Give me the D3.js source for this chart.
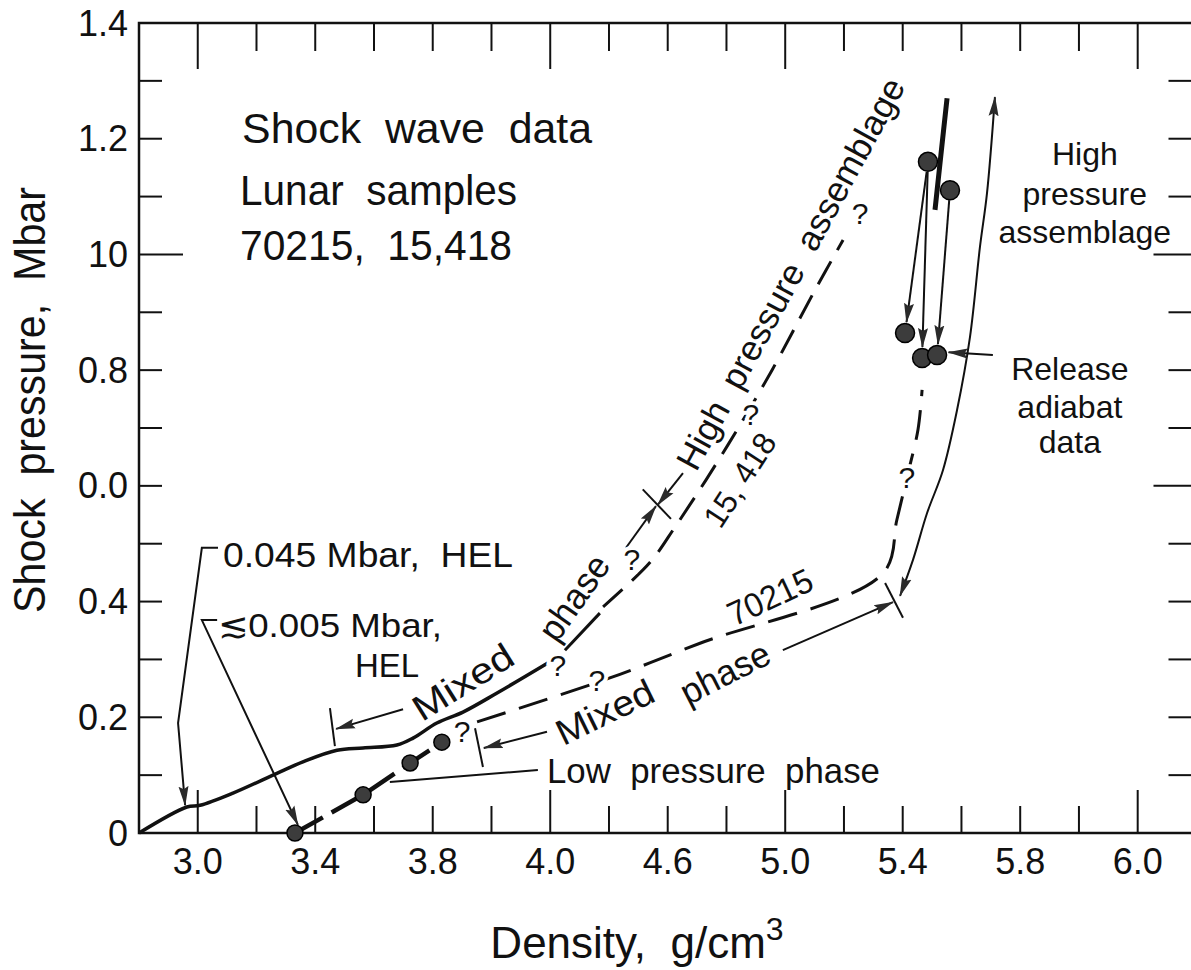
<!DOCTYPE html>
<html>
<head>
<meta charset="utf-8">
<script src="https://cdn.jsdelivr.net/npm/d3@7"></script>
<style>
  body { margin: 0; background: #fff; }
  svg { display: block; }
  text { font-family: "Liberation Sans", Arial, sans-serif; fill: #111; }
</style>
</head>
<body>
<div id="chart"></div>
<script>
// Tick positions (density, g/cm3) and the labels as printed on the figure
const xTickValues = [3.0, 3.4, 3.8, 4.2, 4.6, 5.0, 5.4, 5.8, 6.2];
const xTickLabels = ["3.0", "3.4", "3.8", "4.0", "4.6", "5.0", "5.4", "5.8", "6.0"];
const yTickValues = [0, 0.2, 0.4, 0.6, 0.8, 1.0, 1.2, 1.4];
const yTickLabels = ["0", "0.2", "0.4", "0.0", "0.8", "10", "1.2", "1.4"];

// 15,418 Hugoniot: [density, pressure Mbar]
const hug15418 = [[2.80, 0.000], [2.963, 0.045], [3.008, 0.048], [3.120, 0.069], [3.273, 0.104],
    [3.358, 0.123], [3.474, 0.143], [3.563, 0.147], [3.678, 0.152], [3.733, 0.164],
    [3.814, 0.190], [3.903, 0.209], [4.019, 0.242], [4.199, 0.296]];
const hug15418Mid = [[4.250, 0.316], [4.369, 0.380]];
const hug15418Dashed = [[4.380, 0.391], [4.540, 0.468], [4.625, 0.529], [4.730, 0.610],
    [4.846, 0.705], [4.955, 0.800], [5.101, 0.938], [5.197, 1.025]];

// 70215 shock data points and the inferred (dashed) continuation
const pts70215 = [[3.331, 0.000], [3.563, 0.066], [3.723, 0.121], [3.831, 0.157]];
const hug70215Dashed = [[3.951, 0.192], [4.403, 0.268], [4.710, 0.328], [5.333, 0.449],
    [5.380, 0.541], [5.414, 0.614], [5.452, 0.697], [5.466, 0.766]];
const hpa70215 = [[5.551, 1.270], [5.530, 1.172], [5.510, 1.077]];

// Release adiabat data: shock states (top) and release states (bottom)
const releaseTop = [[5.486, 1.160], [5.561, 1.111]];
const releaseBottom = [[5.408, 0.864], [5.466, 0.821], [5.517, 0.826]];
// which top point each release arrow starts from
const releaseLinks = [[0, 0], [0, 1], [1, 2]];

const width = 1191;
const height = 970;

const svg = d3.select("#chart")
    .append("svg")
    .attr("width", width)
    .attr("height", height);

// right frame edge lies just outside the picture, as in the scanned figure
const xMax = 6.39;
const x = d3.scaleLinear().domain([2.8, xMax]).range([139, 1193.5]);
const y = d3.scaleLinear().domain([0, 1.4]).range([833, 23]);

const defs = svg.append("defs");
defs.append("marker")
    .attr("id", "arrow")
    .attr("viewBox", "0 0 20 12")
    .attr("refX", 19).attr("refY", 6)
    .attr("markerWidth", 20).attr("markerHeight", 12)
    .attr("markerUnits", "userSpaceOnUse")
    .attr("orient", "auto-start-reverse")
    .append("path")
    .attr("d", "M0,1 L20,6 L0,11 L3,6 Z")
    .attr("fill", "#2a2a2a");

const smooth = d3.line()
    .x(d => x(d[0]))
    .y(d => y(d[1]))
    .curve(d3.curveCatmullRom.alpha(0.5));
const straight = d3.line().x(d => x(d[0])).y(d => y(d[1]));

// Frame
const frame = svg.append("g").attr("stroke", "#111").attr("fill", "none");
frame.append("path")
    .attr("stroke-width", 2.5)
    .attr("d", `M${x(xMax)},${y(1.4)} H${x(2.8)} V${y(0)} H${x(xMax)}`);

const xMinor = d3.range(15, 32).map(i => i / 5);
const xLong = [3.0, 4.2, 5.0, 6.2];
const isLongX = v => xLong.some(l => Math.abs(l - v) < 1e-6);
frame.selectAll(".bt").data(xMinor).join("line")
    .attr("stroke-width", 2)
    .attr("x1", d => x(d)).attr("x2", d => x(d))
    .attr("y1", y(0)).attr("y2", d => y(0) - (isLongX(d) ? 43 : 27));
frame.selectAll(".tt").data(xMinor).join("line")
    .attr("stroke-width", 2)
    .attr("x1", d => x(d)).attr("x2", d => x(d))
    .attr("y1", y(1.4)).attr("y2", d => y(1.4) + (isLongX(d) ? 46 : 28));

const yMinor = d3.range(1, 14).map(i => i / 10);
const near = (a, b) => Math.abs(a - b) < 1e-6;
frame.selectAll(".lt").data(yMinor).join("line")
    .attr("stroke-width", 2)
    .attr("x1", x(2.8)).attr("x2", d => x(2.8) + (near(d, 1) ? 44 : 23))
    .attr("y1", d => y(d)).attr("y2", d => y(d));
frame.selectAll(".rt").data(yMinor).join("line")
    .attr("stroke-width", 2)
    .attr("x1", x(xMax)).attr("x2", d => x(xMax) - ((near(d, 1) || near(d, 0.6)) ? 40 : 25))
    .attr("y1", d => y(d)).attr("y2", d => y(d));

// Tick labels
svg.append("g").selectAll("text").data(xTickValues).join("text")
    .attr("x", d => x(d)).attr("y", 874)
    .attr("text-anchor", "middle")
    .attr("font-size", 36)
    .text((d, i) => xTickLabels[i]);
svg.append("g").selectAll("text").data(yTickValues).join("text")
    .attr("x", 128).attr("y", d => y(d))
    .attr("text-anchor", "end")
    .attr("dominant-baseline", "central")
    .attr("font-size", 36)
    .text((d, i) => yTickLabels[i]);

// Axis titles
const xt = svg.append("text")
    .attr("x", 637).attr("y", 958)
    .attr("text-anchor", "middle")
    .attr("font-size", 44);
xt.append("tspan").text("Density,\u00a0\u00a0g/cm");
xt.append("tspan").attr("dy", -18).attr("font-size", 32).text("3");

svg.append("text")
    .attr("transform", "translate(45,400) rotate(-90)")
    .attr("text-anchor", "middle")
    .attr("font-size", 44)
    .attr("textLength", 426).attr("lengthAdjust", "spacingAndGlyphs")
    .text("Shock\u00a0\u00a0pressure,\u00a0\u00a0Mbar");

// Curves
const curves = svg.append("g").attr("fill", "none").attr("stroke", "#111").attr("stroke-linecap", "butt");
curves.append("path").attr("d", smooth(hug15418)).attr("stroke-width", 3.5);
curves.append("path").attr("d", smooth(hug15418Mid)).attr("stroke-width", 3);
curves.append("path").attr("d", smooth(hug15418Dashed)).attr("stroke-width", 3)
    .attr("stroke-dasharray", "26,13");
curves.append("path").attr("d", straight(pts70215)).attr("stroke-width", 4.5)
    .attr("stroke-dasharray", "32,10");
curves.append("path").attr("d", smooth(hug70215Dashed)).attr("stroke-width", 3)
    .attr("stroke-dasharray", "30,14");
curves.append("path").attr("d", smooth(hpa70215)).attr("stroke-width", 5);

// Release adiabat arrows
curves.selectAll(".rel").data(releaseLinks).join("path")
    .attr("stroke-width", 2)
    .attr("marker-end", "url(#arrow)")
    .attr("d", ([a, b]) => {
        const x0 = x(releaseTop[a][0]), y0 = y(releaseTop[a][1]);
        const x1 = x(releaseBottom[b][0]), y1 = y(releaseBottom[b][1]);
        const len = Math.hypot(x1 - x0, y1 - y0);
        const r0 = 10, r1 = 11;
        return `M${x0 + (x1 - x0) * r0 / len},${y0 + (y1 - y0) * r0 / len} L${x1 - (x1 - x0) * r1 / len},${y1 - (y1 - y0) * r1 / len}`;
    });

// Annotation lines (dimension arrows, leaders), positioned in data units
const ann = svg.append("g").attr("fill", "none").attr("stroke", "#111").attr("stroke-width", 2);
const seg = (pts, arrow) => {
    const p = ann.append("path").attr("d", straight(pts));
    if (arrow) p.attr("marker-end", "url(#arrow)");
    return p;
};
// HEL leaders
seg([[3.069, 0.493], [3.014, 0.493], [2.933, 0.190], [2.957, 0.048]], true);
seg([[3.066, 0.368], [3.014, 0.368], [3.341, 0.014]], true);
// Low pressure phase leader
seg([[4.158, 0.109], [3.654, 0.088]], false);
// 15,418 mixed phase span
seg([[3.450, 0.216], [3.467, 0.150]], false);
seg([[3.699, 0.214], [3.471, 0.180]], true);
seg([[4.458, 0.493], [4.560, 0.565]], true);
seg([[4.515, 0.594], [4.611, 0.543]], false);
seg([[4.652, 0.622], [4.566, 0.567]], true);
// 70215 mixed phase span
seg([[3.944, 0.181], [3.971, 0.114]], false);
seg([[4.189, 0.175], [3.974, 0.147]], true);
seg([[4.992, 0.316], [5.367, 0.399]], true);
seg([[5.340, 0.432], [5.401, 0.372]], false);
// 70215 high pressure assemblage span
ann.append("path")
    .attr("d", smooth([[5.391, 0.410], [5.435, 0.472], [5.483, 0.553], [5.537, 0.627],
        [5.585, 0.731], [5.629, 0.857], [5.663, 1.013], [5.687, 1.106], [5.714, 1.272]]))
    .attr("marker-start", "url(#arrow)")
    .attr("marker-end", "url(#arrow)");
// Release adiabat leader
seg([[5.707, 0.826], [5.556, 0.831]], true);

// Data points
const dots = svg.append("g").attr("fill", "#3c3c3c").attr("stroke", "#000").attr("stroke-width", 1.5);
dots.selectAll(".lo").data(pts70215).join("circle")
    .attr("cx", d => x(d[0])).attr("cy", d => y(d[1])).attr("r", 8);
dots.selectAll(".hi").data(releaseTop.concat(releaseBottom)).join("circle")
    .attr("cx", d => x(d[0])).attr("cy", d => y(d[1])).attr("r", 9.5);

// Text annotations
const txt = svg.append("g");
const put = (s, d, p, size, opts = {}) => {
    const t = txt.append("text")
        .attr("font-size", size)
        .attr("text-anchor", opts.anchor || "start")
        .text(s.replace(/ /g, "\u00a0"));
    if (opts.angle !== undefined) {
        t.attr("transform", `translate(${x(d)},${y(p)}) rotate(${opts.angle})`)
            .attr("text-anchor", "middle")
            .attr("dominant-baseline", "central");
    } else {
        t.attr("x", x(d)).attr("y", y(p));
    }
    if (opts.len) t.attr("textLength", opts.len).attr("lengthAdjust", "spacingAndGlyphs");
    if (opts.halo) t.attr("stroke", "#fff").attr("stroke-width", 8).attr("paint-order", "stroke");
    return t;
};

put("Shock  wave  data", 3.151, 1.1925, 42, { len: 350 });
put("Lunar  samples", 3.144, 1.0854, 42, { len: 277 });
put("70215,  15,418", 3.144, 0.9903, 42, { len: 272 });

put("0.045 Mbar,  HEL", 3.086, 0.4597, 35, { len: 290 });
put("\u22720.005 Mbar,", 3.069, 0.3387, 34, { len: 224 });
put("HEL", 3.535, 0.2696, 33);
put("Low  pressure  phase", 4.189, 0.0864, 35, { len: 333 });

put("High", 6.020, 1.1545, 32, { anchor: "middle" });
put("pressure", 6.020, 1.0854, 32, { anchor: "middle" });
put("assemblage", 6.020, 1.0197, 32, { anchor: "middle" });
put("Release", 5.969, 0.7829, 32, { anchor: "middle" });
put("adiabat", 5.969, 0.7172, 32, { anchor: "middle" });
put("data", 5.969, 0.6568, 32, { anchor: "middle" });

// labels along the curves
put("Mixed", 3.903, 0.261, 36, { angle: -32, len: 112 });
put("phase", 4.281, 0.407, 36, { angle: -55, len: 96 });
put("High  pressure  assemblage", 5.017, 0.9670, 35, { angle: -61.5, len: 440 });
put("15, 418", 4.846, 0.610, 32, { angle: -57, len: 105 });
put("Mixed", 4.386, 0.209, 36, { angle: -26, len: 105 });
put("phase", 4.795, 0.277, 36, { angle: -27, len: 96 });
put("70215", 4.948, 0.408, 34, { angle: -25, len: 90 });

// question marks on the uncertain parts
[[4.226, 0.290], [4.478, 0.472], [4.883, 0.724], [5.255, 1.070],
 [3.900, 0.175], [4.359, 0.264], [5.414, 0.614]].forEach(q => {
    put("?", q[0], q[1], 30, { angle: 0, halo: true });
});
</script>
</body>
</html>
